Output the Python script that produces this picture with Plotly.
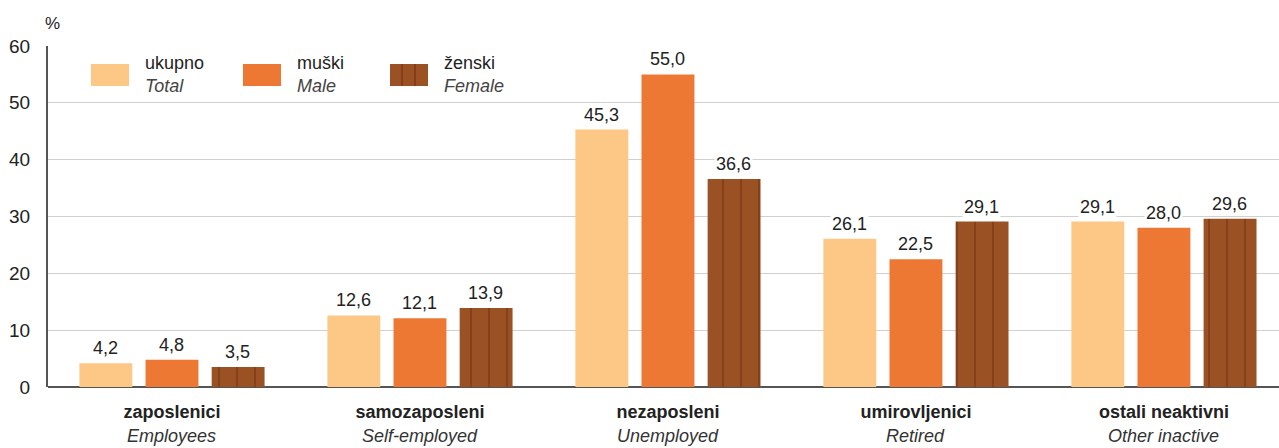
import plotly.graph_objects as go

categories_hr = ["zaposlenici", "samozaposleni", "nezaposleni", "umirovljenici", "ostali neaktivni"]
categories_en = ["Employees", "Self-employed", "Unemployed", "Retired", "Other inactive"]
total = [4.2, 12.6, 45.3, 26.1, 29.1]
male = [4.8, 12.1, 55.0, 22.5, 28.0]
female = [3.5, 13.9, 36.6, 29.1, 29.6]
series_hr = ["ukupno", "muški", "ženski"]
series_en = ["Total", "Male", "Female"]
y_ticks = [0, 10, 20, 30, 40, 50, 60]

FONT = "Liberation Sans, Arial, sans-serif"
colors = ["#FDC886", "#ED7834", "#9A5224"]
stripe = "#7E3916"

PW, PH = 1231, 341
x = list(range(len(categories_hr)))
fig = go.Figure()
for j, (vals, col) in enumerate(zip([total, male, female], colors)):
    marker = dict(color=col, line=dict(width=0))
    if j == 2:
        marker["pattern"] = dict(shape="|", size=18, solidity=0.08, fgcolor=stripe, bgcolor=col, fillmode="replace")
    fig.add_trace(go.Bar(x=x, y=vals, name=series_hr[j], marker=marker, showlegend=False))

# value labels with white background
offsets = [-66, 0, 66]
for j, vals in enumerate([total, male, female]):
    for i, v in enumerate(vals):
        fig.add_annotation(x=i, y=v, xref="x", yref="y", xshift=offsets[j], yshift=3,
                           text=f"{v:.1f}".replace(".", ","), showarrow=False,
                           yanchor="bottom", bgcolor="white", borderpad=1,
                           font=dict(family=FONT, size=18, color="#222"))

# italic English category labels
for i, e in enumerate(categories_en):
    fig.add_annotation(x=i, y=(387 - 436) / PH, xref="x", yref="paper",
                       text=f"<i>{e}</i>", showarrow=False, yanchor="middle",
                       font=dict(family=FONT, size=18, color="#333"))

# custom legend
leg_x = [91, 243, 390]
for j in range(3):
    fig.add_shape(type="rect", xref="paper", yref="paper",
                  x0=(leg_x[j] - 48) / PW, x1=(leg_x[j] + 38 - 48) / PW,
                  y0=(387 - 86) / PH, y1=(387 - 64) / PH,
                  fillcolor=colors[j], line=dict(width=0), layer="above")
    if j == 2:
        for k in (12, 25):
            xs = (leg_x[j] + k - 48) / PW
            fig.add_shape(type="line", xref="paper", yref="paper", x0=xs, x1=xs,
                          y0=(387 - 86) / PH, y1=(387 - 64) / PH,
                          line=dict(color=stripe, width=1.5), layer="above")
    fig.add_annotation(xref="paper", yref="paper", x=(leg_x[j] + 52 - 48) / PW,
                       y=(387 - 63) / PH, text=series_hr[j], showarrow=False,
                       xanchor="left", yanchor="middle",
                       font=dict(family=FONT, size=18, color="#222"))
    fig.add_annotation(xref="paper", yref="paper", x=(leg_x[j] + 52 - 48) / PW,
                       y=(387 - 86) / PH, text=f"<i>{series_en[j]}</i>", showarrow=False,
                       xanchor="left", yanchor="middle",
                       font=dict(family=FONT, size=18, color="#444"))

fig.add_annotation(xref="paper", yref="paper", x=4 / PW, y=(387 - 23) / PH,
                   text="%", showarrow=False, xanchor="center", yanchor="middle",
                   font=dict(family=FONT, size=17, color="#222"))

ticktext = [f"<b>{h}</b>" for h in categories_hr]
fig.update_layout(
    width=1279, height=448,
    margin=dict(l=48, r=0, t=46, b=61),
    paper_bgcolor="white", plot_bgcolor="white",
    barmode="group", bargap=0.2, bargroupgap=0.2,
    font=dict(family=FONT, size=18, color="#222"),
    xaxis=dict(tickmode="array", tickvals=x, ticktext=ticktext, range=[-0.5, 4.464],
               showgrid=False, zeroline=False, showline=False, ticks="",
               automargin=False, ticklabelstandoff=12,
               tickfont=dict(family=FONT, size=18, color="#222")),
    yaxis=dict(range=[0, 60], tickvals=y_ticks, showgrid=True, gridcolor="#D0D0D0",
               gridwidth=1, zeroline=True, zerolinecolor="#555", zerolinewidth=2,
               showline=True, linecolor="#555", linewidth=2, ticks="",
               automargin=False, ticklabelstandoff=12,
               tickfont=dict(family=FONT, size=19, color="#222")),
)
fig.write_html("out.html", config={"displayModeBar": False},
               post_script="document.body.style.margin='0';")
